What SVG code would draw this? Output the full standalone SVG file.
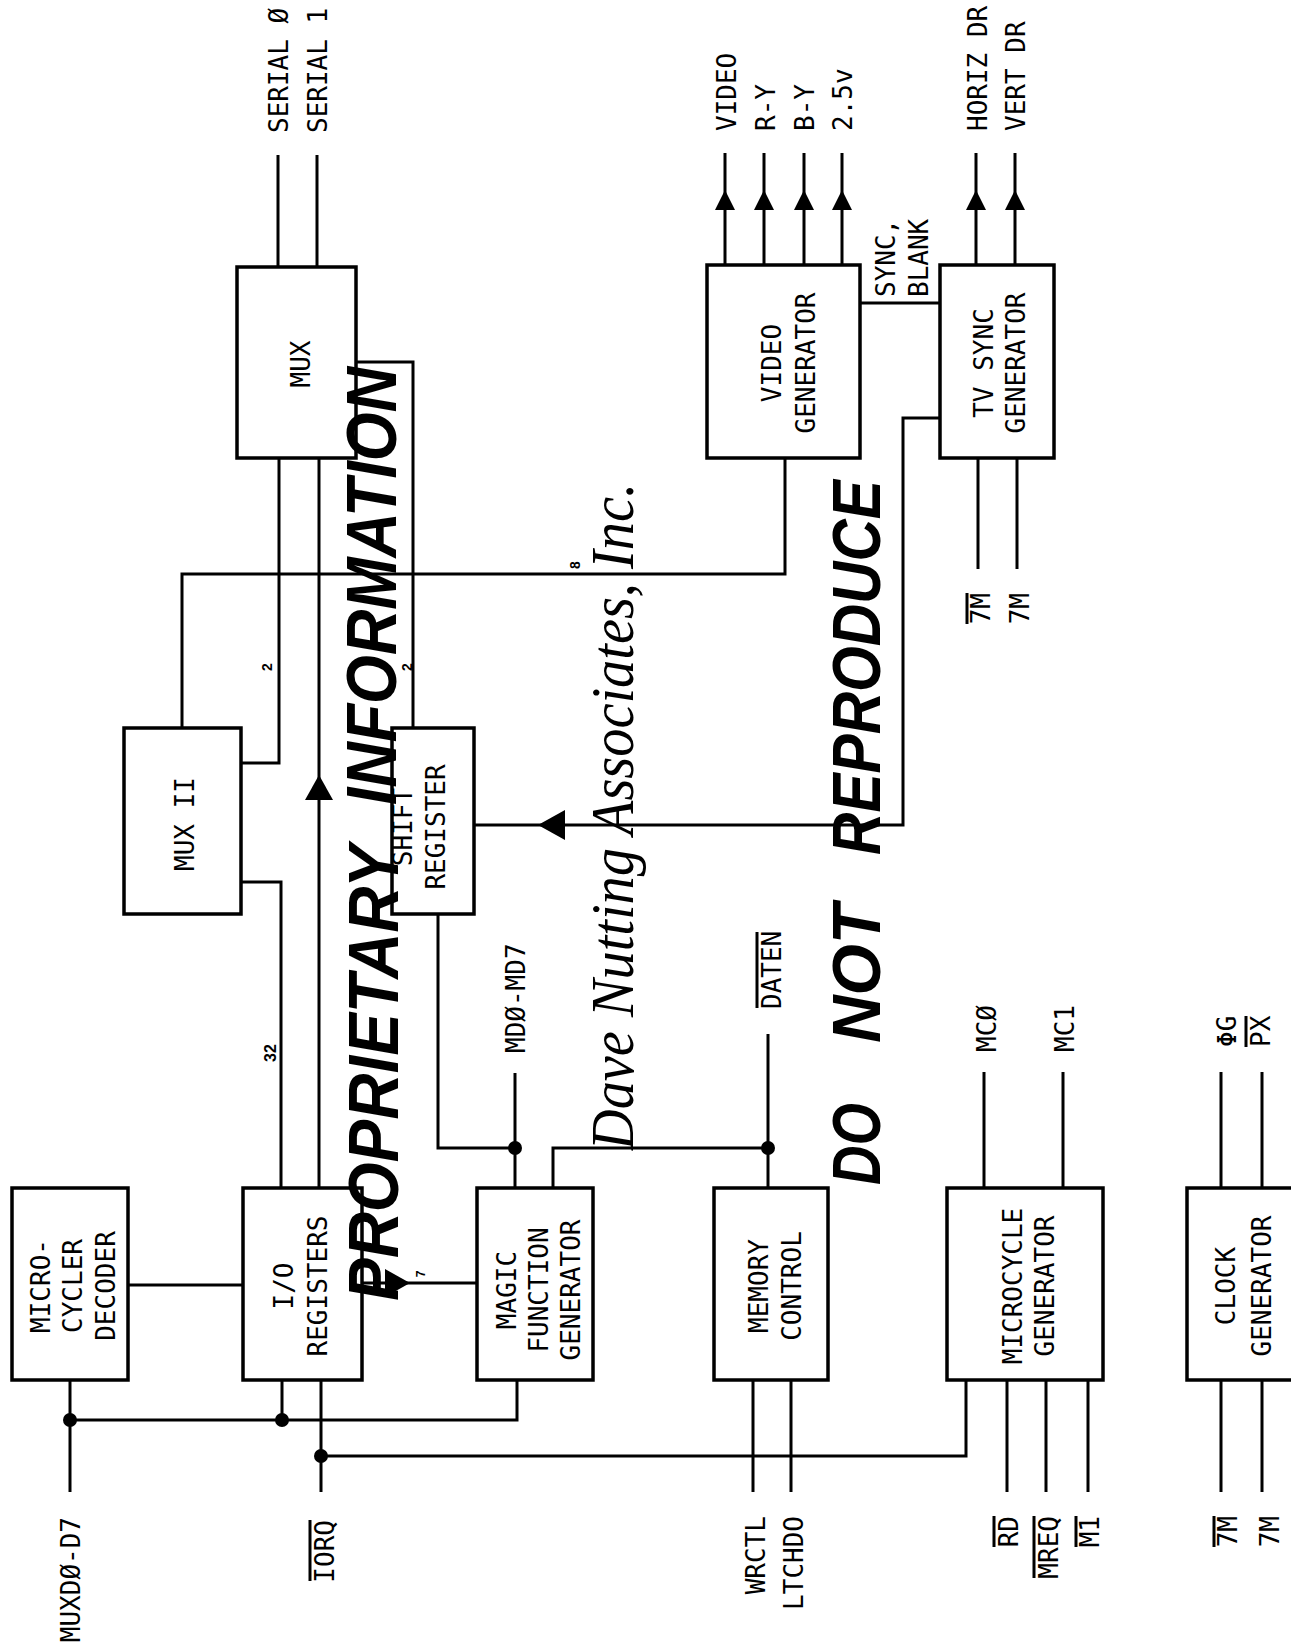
<svg xmlns="http://www.w3.org/2000/svg" width="1291" height="1646" viewBox="0 0 1291 1646">
<style>
.box{fill:none;stroke:#000;stroke-width:3.5}
.w{fill:none;stroke:#000;stroke-width:3}
.ah{fill:#000;stroke:none}
.t{font-family:"DejaVu Sans Mono","Liberation Mono",monospace;font-size:26px;fill:#000}
.m{text-anchor:middle}
.e{text-anchor:end}
.n{font-family:"Liberation Sans",Arial,sans-serif;font-weight:bold;font-size:14px;fill:#000}
.wm{font-family:"Liberation Sans",Arial,sans-serif;font-weight:bold;font-style:italic;font-size:70px;fill:#000}
.sc{font-family:"Liberation Serif","Times New Roman",serif;font-style:italic;font-size:62px;fill:#000}
</style>
<rect width="1291" height="1646" fill="#fff"/>

<g id="connectors">
<path class="w" d="M278 155V267M317 155V267"/>
<path class="w" d="M279 458V763H241"/>
<path class="w" d="M241 882H281V1188"/>
<path class="w" d="M319 458V1188"/>
<polygon class="ah" points="319,775 305,800 333,800"/>
<path class="w" d="M356 362H413V728"/>
<path class="w" d="M182 728V574H785V458"/>
<path class="w" d="M940 418H903V825H474"/>
<polygon class="ah" points="538,825 565,810 565,840"/>
<path class="w" d="M725 153V265M764 153V265M804 153V265M842 153V265M976 153V265M1015 153V265"/>
<polygon class="ah" points="725,190 715,210 735,210"/>
<polygon class="ah" points="764,190 754,210 774,210"/>
<polygon class="ah" points="804,190 794,210 814,210"/>
<polygon class="ah" points="842,190 832,210 852,210"/>
<polygon class="ah" points="976,190 966,210 986,210"/>
<polygon class="ah" points="1015,190 1005,210 1025,210"/>
<path class="w" d="M860 303H940"/>
<path class="w" d="M978 458V569M1017 458V569"/>
<path class="w" d="M128 1285H243"/>
<path class="w" d="M362 1283H477"/>
<polygon class="ah" points="410,1283 385,1269 385,1297"/>
<path class="w" d="M438 914V1148H515"/>
<path class="w" d="M515 1073V1188"/>
<path class="w" d="M553 1188V1148H768"/>
<path class="w" d="M768 1034V1188"/>
<path class="w" d="M753 1380V1492M791 1380V1492"/>
<path class="w" d="M984 1072V1188M1063 1072V1188"/>
<path class="w" d="M1007 1380V1492M1046 1380V1492M1088 1380V1492"/>
<path class="w" d="M70 1380V1492"/>
<path class="w" d="M70 1420H517V1380M282 1380V1420"/>
<path class="w" d="M321 1380V1492M321 1456H966V1380"/>
<path class="w" d="M1221 1072V1188M1262 1072V1188M1221 1380V1492M1262 1380V1492"/>
<circle cx="70" cy="1420" r="7"/>
<circle cx="282" cy="1420" r="7"/>
<circle cx="321" cy="1456" r="7"/>
<circle cx="515" cy="1148" r="7"/>
<circle cx="768" cy="1148" r="7"/>
</g>

<g id="decoder">
<rect class="box" x="12" y="1188" width="116" height="192"/>
<text class="t m" transform="translate(50,1286) rotate(-90)">MICRO-</text>
<text class="t m" transform="translate(82,1286) rotate(-90)">CYCLER</text>
<text class="t m" transform="translate(115,1286) rotate(-90)">DECODER</text>
</g>
<g id="io">
<rect class="box" x="243" y="1188" width="119" height="192"/>
<text class="t m" transform="translate(293,1286) rotate(-90)">I/O</text>
<text class="t m" transform="translate(327,1286) rotate(-90)">REGISTERS</text>
</g>
<g id="mfg">
<rect class="box" x="477" y="1188" width="116" height="192"/>
<text class="t m" transform="translate(516,1290) rotate(-90)">MAGIC</text>
<text class="t m" transform="translate(548,1290) rotate(-90)">FUNCTION</text>
<text class="t m" transform="translate(580,1290) rotate(-90)">GENERATOR</text>
</g>
<g id="memory">
<rect class="box" x="714" y="1188" width="114" height="192"/>
<text class="t m" transform="translate(768,1286) rotate(-90)">MEMORY</text>
<text class="t m" transform="translate(801,1286) rotate(-90)">CONTROL</text>
</g>
<g id="microcycle">
<rect class="box" x="947" y="1188" width="156" height="192"/>
<text class="t m" transform="translate(1022,1286) rotate(-90)">MICROCYCLE</text>
<text class="t m" transform="translate(1054,1286) rotate(-90)">GENERATOR</text>
</g>
<g id="clock">
<rect class="box" x="1187" y="1188" width="130" height="192"/>
<text class="t m" transform="translate(1235,1286) rotate(-90)">CLOCK</text>
<text class="t m" transform="translate(1271,1286) rotate(-90)">GENERATOR</text>
</g>
<g id="mux2">
<rect class="box" x="124" y="728" width="117" height="186"/>
<text class="t m" transform="translate(194,824) rotate(-90)">MUX II</text>
</g>
<g id="shift">
<rect class="box" x="392" y="728" width="82" height="186"/>
<text class="t m" transform="translate(412,827) rotate(-90)">SHIFT</text>
<text class="t m" transform="translate(445,827) rotate(-90)">REGISTER</text>
</g>
<g id="mux">
<rect class="box" x="237" y="267" width="119" height="191"/>
<text class="t m" transform="translate(310,364) rotate(-90)">MUX</text>
</g>
<g id="video">
<rect class="box" x="707" y="265" width="153" height="193"/>
<text class="t m" transform="translate(781,363) rotate(-90)">VIDEO</text>
<text class="t m" transform="translate(815,363) rotate(-90)">GENERATOR</text>
</g>
<g id="tvsync">
<rect class="box" x="940" y="265" width="114" height="193"/>
<text class="t m" transform="translate(993,363) rotate(-90)">TV SYNC</text>
<text class="t m" transform="translate(1025,363) rotate(-90)">GENERATOR</text>
</g>

<g id="labels">
<text class="t" transform="translate(288,133) rotate(-90)">SERIAL Ø</text>
<text class="t" transform="translate(327,133) rotate(-90)">SERIAL 1</text>
<text class="t" transform="translate(736,131) rotate(-90)">VIDEO</text>
<text class="t" transform="translate(775,131) rotate(-90)">R-Y</text>
<text class="t" transform="translate(814,131) rotate(-90)">B-Y</text>
<text class="t" transform="translate(852,131) rotate(-90)">2.5v</text>
<text class="t" transform="translate(987,131) rotate(-90)">HORIZ DR</text>
<text class="t" transform="translate(1025,131) rotate(-90)">VERT DR</text>
<text class="t" transform="translate(895,297) rotate(-90)">SYNC,</text>
<text class="t" transform="translate(928,297) rotate(-90)">BLANK</text>
<text class="t e" transform="translate(990,593) rotate(-90)">7M</text>
<path class="w" stroke-width="2" d="M967 593V624"/>
<text class="t e" transform="translate(1029,593) rotate(-90)">7M</text>
<text class="t" transform="translate(525,1053) rotate(-90)">MDØ-MD7</text>
<text class="t" transform="translate(781,1009) rotate(-90)">DATEN</text>
<path class="w" stroke-width="2" d="M757 932V1008"/>
<text class="t" transform="translate(996,1052) rotate(-90)">MCØ</text>
<text class="t" transform="translate(1074,1052) rotate(-90)">MC1</text>
<text class="t" transform="translate(1236,1047) rotate(-90)">ΦG</text>
<text class="t" transform="translate(1270,1047) rotate(-90)">PX</text>
<path class="w" stroke-width="2" d="M1246 1016V1047"/>
<text class="t e" transform="translate(80,1517) rotate(-90)">MUXDØ-D7</text>
<text class="t e" transform="translate(334,1520) rotate(-90)">IORQ</text>
<path class="w" stroke-width="2" d="M310 1520V1581"/>
<text class="t e" transform="translate(765,1516) rotate(-90)">WRCTL</text>
<text class="t e" transform="translate(803,1516) rotate(-90)">LTCHDO</text>
<text class="t e" transform="translate(1018,1516) rotate(-90)">RD</text>
<path class="w" stroke-width="2" d="M994 1516V1547"/>
<text class="t e" transform="translate(1058,1516) rotate(-90)">MREQ</text>
<path class="w" stroke-width="2" d="M1034 1516V1578"/>
<text class="t e" transform="translate(1099,1516) rotate(-90)">M1</text>
<path class="w" stroke-width="2" d="M1076 1516V1547"/>
<text class="t e" transform="translate(1237,1516) rotate(-90)">7M</text>
<path class="w" stroke-width="2" d="M1214 1516V1547"/>
<text class="t e" transform="translate(1279,1516) rotate(-90)">7M</text>
<text class="n" transform="translate(272,667) rotate(-90)" text-anchor="middle">2</text>
<text class="n" transform="translate(412,667) rotate(-90)" text-anchor="middle">2</text>
<text class="n" transform="translate(580,565) rotate(-90)" text-anchor="middle">8</text>
<text class="n" style="font-size:16px" transform="translate(276,1053) rotate(-90)" text-anchor="middle">32</text>
<text class="n" style="font-size:12px" transform="translate(425,1274) rotate(-90)" text-anchor="middle">7</text>
</g>

<g id="watermark">
<text class="wm" transform="translate(398,1301) rotate(-90)" textLength="456" lengthAdjust="spacingAndGlyphs">PROPRIETARY</text>
<text class="wm" transform="translate(396,805) rotate(-90)" textLength="438" lengthAdjust="spacingAndGlyphs">INFORMATION</text>
<text class="wm" style="font-size:68px" transform="translate(880,1185) rotate(-90)" textLength="82" lengthAdjust="spacingAndGlyphs">DO</text>
<text class="wm" style="font-size:68px" transform="translate(880,1043) rotate(-90)" textLength="139" lengthAdjust="spacingAndGlyphs">NOT</text>
<text class="wm" style="font-size:68px" transform="translate(880,855) rotate(-90)" textLength="375" lengthAdjust="spacingAndGlyphs">REPRODUCE</text>
<text class="sc" transform="translate(633,1150) rotate(-90)" textLength="667" lengthAdjust="spacingAndGlyphs">Dave Nutting Associates, Inc.</text>
</g>
</svg>
